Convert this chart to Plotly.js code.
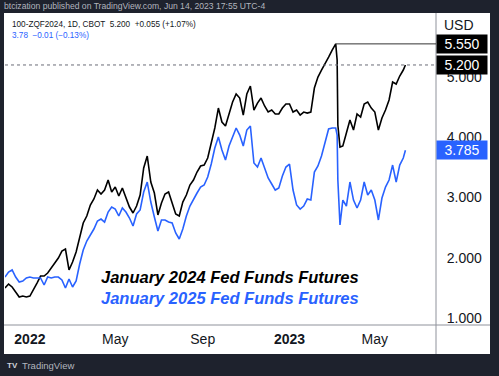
<!DOCTYPE html>
<html>
<head>
<meta charset="utf-8">
<script src="https://cdn.plot.ly/plotly-3.0.1.min.js"></script>
<style>
html,body{margin:0;padding:0;background:#1e222d;}
#chart{width:499px;height:376px;}
</style>
</head>
<body>
<div id="chart"></div>
<script>
// ---- data ----
const dates = [
 '2021-11-27','2021-12-02','2021-12-07','2021-12-12','2021-12-17','2021-12-22','2021-12-27',
 '2022-01-01','2022-01-06','2022-01-11','2022-01-16','2022-01-21','2022-01-26','2022-01-31',
 '2022-02-05','2022-02-10','2022-02-15','2022-02-20','2022-02-25',
 '2022-03-02','2022-03-07','2022-03-12','2022-03-17','2022-03-22','2022-03-27',
 '2022-04-01','2022-04-06','2022-04-11','2022-04-16','2022-04-21','2022-04-26',
 '2022-05-01','2022-05-06','2022-05-11','2022-05-16','2022-05-21','2022-05-26','2022-05-31',
 '2022-06-05','2022-06-10','2022-06-15','2022-06-20','2022-06-25','2022-06-30',
 '2022-07-05','2022-07-10','2022-07-15','2022-07-20','2022-07-25','2022-07-30',
 '2022-08-04','2022-08-09','2022-08-14','2022-08-19','2022-08-24','2022-08-29',
 '2022-09-03','2022-09-08','2022-09-13','2022-09-18','2022-09-23','2022-09-28',
 '2022-10-03','2022-10-08','2022-10-13','2022-10-18','2022-10-23','2022-10-28',
 '2022-11-02','2022-11-07','2022-11-12','2022-11-17','2022-11-22','2022-11-27',
 '2022-12-02','2022-12-07','2022-12-12','2022-12-17','2022-12-22','2022-12-27',
 '2023-01-01','2023-01-06','2023-01-11','2023-01-16','2023-01-21','2023-01-26','2023-01-31',
 '2023-02-05','2023-02-10','2023-02-15','2023-02-20','2023-02-25',
 '2023-03-02','2023-03-07','2023-03-09','2023-03-10','2023-03-13','2023-03-17','2023-03-22','2023-03-27',
 '2023-04-01','2023-04-06','2023-04-11','2023-04-16','2023-04-21','2023-04-26',
 '2023-05-01','2023-05-06','2023-05-11','2023-05-16','2023-05-21','2023-05-26','2023-05-31',
 '2023-06-05','2023-06-10','2023-06-13'
];
const jan2024 = [
 1.498,1.564,1.515,1.432,1.349,1.365,1.349,
 1.365,1.465,1.581,1.697,1.697,1.747,1.830,
 1.913,1.996,2.112,2.145,1.797,
 1.929,2.095,2.361,2.577,2.693,2.876,
 2.975,3.124,3.058,3.124,3.290,3.091,
 3.174,3.025,3.158,2.992,2.842,2.743,2.859,
 3.041,3.490,3.689,3.257,3.075,2.710,
 2.909,3.058,3.091,2.925,2.726,2.693,
 2.925,3.041,3.207,3.290,3.423,3.523,
 3.539,3.656,3.905,4.154,4.485,4.253,
 4.187,4.386,4.585,4.718,4.651,4.369,
 4.718,4.851,4.452,4.568,4.651,4.519,
 4.419,4.452,4.386,4.386,4.485,4.552,
 4.552,4.419,4.452,4.369,4.419,4.402,4.419,
 4.817,5.000,5.116,5.216,5.332,
 5.448,5.550,5.282,4.203,3.838,3.855,4.071,4.286,
 4.120,4.386,4.336,4.552,4.585,4.485,
 4.419,4.120,4.320,4.452,4.618,4.917,4.884,
 5.017,5.116,5.200
];
const jan2025 = [
 1.680,1.763,1.797,1.680,1.598,1.614,1.664,
 1.680,1.664,1.664,1.664,1.548,1.680,1.664,
 1.680,1.680,1.631,1.498,1.647,
 1.515,1.614,1.896,2.129,2.278,2.378,
 2.477,2.610,2.643,2.593,2.759,2.842,
 2.809,2.693,2.826,2.759,2.660,2.527,2.726,
 2.793,3.091,3.257,2.925,2.676,2.444,
 2.627,2.627,2.593,2.577,2.411,2.311,
 2.477,2.693,2.859,2.975,3.075,3.174,
 3.207,3.340,3.556,3.822,4.004,3.788,
 3.622,3.855,4.021,4.154,4.037,3.855,
 4.120,4.187,3.573,3.506,3.656,3.490,
 3.324,3.224,3.124,3.158,3.357,3.506,
 3.556,3.124,2.876,2.809,2.859,2.975,2.958,
 3.423,3.523,3.689,3.921,4.137,
 4.154,4.154,4.037,3.290,2.544,2.958,2.859,3.257,
 2.958,2.826,2.958,3.257,3.041,3.124,
 2.958,2.627,2.992,3.174,3.290,3.539,3.257,
 3.539,3.656,3.785
];
const xTickVals = ['2022-01-01','2022-05-01','2022-09-01','2023-01-01','2023-05-01'];
const xTickText = ['<b>2022</b>','May','Sep','<b>2023</b>','May'];
const yTickVals = [1,2,3,4,5];
const peakDate = '2023-03-07';
const peakValue = 5.550;
const lastBlack = 5.200;
const lastBlue = 3.785;

// ---- layout helpers (pixel -> paper) ----
const L = 5, R = 436, T = 14, B = 325;
const px = x => (x - L) / (R - L);
const py = y => (B - y) / (B - T);

const FONT = 'Liberation Sans, Arial, sans-serif';
const BLUE = '#2962ff';
const INK = '#131722';

const traces = [
  {x: dates, y: jan2024, type: 'scatter', mode: 'lines',
   line: {color: '#000000', width: 1.6}, hoverinfo: 'skip'},
  {x: dates, y: jan2025, type: 'scatter', mode: 'lines',
   line: {color: BLUE, width: 1.6}, hoverinfo: 'skip'}
];

const layout = {
  width: 499, height: 376,
  margin: {l: L, r: 499 - R, t: T, b: 376 - B, pad: 0},
  paper_bgcolor: '#1e222d',
  plot_bgcolor: 'rgba(0,0,0,0)',
  showlegend: false,
  font: {family: FONT, color: INK},
  xaxis: {
    type: 'date', range: ['2021-11-27', '2023-07-26'],
    tickvals: xTickVals, ticktext: xTickText,
    showgrid: false, zeroline: false, showline: false,
    ticks: 'outside', ticklen: 1, tickcolor: 'rgba(0,0,0,0)',
    tickfont: {size: 14, color: INK, family: FONT}
  },
  yaxis: {
    side: 'right', range: [0.884, 6.046],
    tickvals: yTickVals, tickformat: '.3f',
    showgrid: false, zeroline: false, showline: false,
    ticks: 'outside', ticklen: 7, tickcolor: 'rgba(0,0,0,0)',
    tickfont: {size: 14, color: INK, family: FONT}
  },
  shapes: [
    {type: 'rect', xref: 'paper', yref: 'paper', layer: 'below',
     x0: px(4), x1: px(490), y0: py(354), y1: py(13),
     fillcolor: '#ffffff', line: {width: 0}},
    {type: 'line', xref: 'paper', yref: 'paper',
     x0: px(436), x1: px(436), y0: py(354), y1: py(13),
     line: {color: '#8f929b', width: 1}},
    {type: 'line', xref: 'paper', yref: 'paper',
     x0: px(4), x1: px(490), y0: 0, y1: 0,
     line: {color: '#8f929b', width: 1}},
    {type: 'line', xref: 'paper', yref: 'y',
     x0: 0, x1: 1, y0: lastBlack, y1: lastBlack,
     line: {color: '#6a6d78', width: 1, dash: 'dot'}},
    {type: 'line', xref: 'x', yref: 'y',
     x0: peakDate, x1: '2023-07-26', y0: peakValue, y1: peakValue,
     line: {color: '#333333', width: 1}}
  ],
  annotations: [
    {xref: 'paper', yref: 'paper', x: px(2), y: py(6.5), xanchor: 'left', yanchor: 'middle',
     showarrow: false, text: 'btcization published on TradingView.com, Jun 14, 2023 17:55 UTC-4',
     font: {size: 8.6, color: '#b2b5be', family: FONT}},
    {xref: 'paper', yref: 'paper', x: px(10), y: py(24), xanchor: 'left', yanchor: 'middle',
     showarrow: false, text: '100-ZQF2024, 1D, CBOT  5.200  +0.055 (+1.07%)',
     font: {size: 8.2, color: INK, family: FONT}},
    {xref: 'paper', yref: 'paper', x: px(10), y: py(35), xanchor: 'left', yanchor: 'middle',
     showarrow: false, text: '3.78  \u22120.01 (\u22120.13%)',
     font: {size: 8.2, color: BLUE, family: FONT}},
    {xref: 'paper', yref: 'paper', x: px(442), y: py(25), xanchor: 'left', yanchor: 'middle',
     showarrow: false, text: 'USD',
     font: {size: 14, color: INK, family: FONT}},
    {xref: 'paper', yref: 'y', x: px(462), y: peakValue, xanchor: 'center', yanchor: 'middle',
     showarrow: false, text: '5.550', bgcolor: '#000000', width: 46, height: 14, borderpad: 2,
     font: {size: 14, color: '#ffffff', family: FONT}},
    {xref: 'paper', yref: 'y', x: px(462), y: lastBlack, xanchor: 'center', yanchor: 'middle',
     showarrow: false, text: '5.200', bgcolor: '#000000', width: 46, height: 14, borderpad: 2,
     font: {size: 14, color: '#ffffff', family: FONT}},
    {xref: 'paper', yref: 'y', x: px(462), y: lastBlue, xanchor: 'center', yanchor: 'middle',
     showarrow: false, text: '3.785', bgcolor: BLUE, width: 46, height: 14, borderpad: 2,
     font: {size: 14, color: '#ffffff', family: FONT}},
    {xref: 'paper', yref: 'paper', x: px(99), y: py(277), xanchor: 'left', yanchor: 'middle',
     showarrow: false, text: '<b><i>January 2024 Fed Funds Futures</i></b>',
     font: {size: 16.5, color: '#000000', family: FONT}},
    {xref: 'paper', yref: 'paper', x: px(99), y: py(298), xanchor: 'left', yanchor: 'middle',
     showarrow: false, text: '<b><i>January 2025 Fed Funds Futures</i></b>',
     font: {size: 16.5, color: BLUE, family: FONT}},
    {xref: 'paper', yref: 'paper', x: px(5), y: py(365.5), xanchor: 'left', yanchor: 'middle',
     showarrow: false, text: '<b>TV</b>',
     font: {size: 8, color: '#d1d4dc', family: FONT}},
    {xref: 'paper', yref: 'paper', x: px(20), y: py(365.5), xanchor: 'left', yanchor: 'middle',
     showarrow: false, text: 'TradingView',
     font: {size: 9.5, color: '#b2b5be', family: FONT}}
  ]
};

Plotly.newPlot('chart', traces, layout, {displayModeBar: false, staticPlot: true});
</script>
</body>
</html>
